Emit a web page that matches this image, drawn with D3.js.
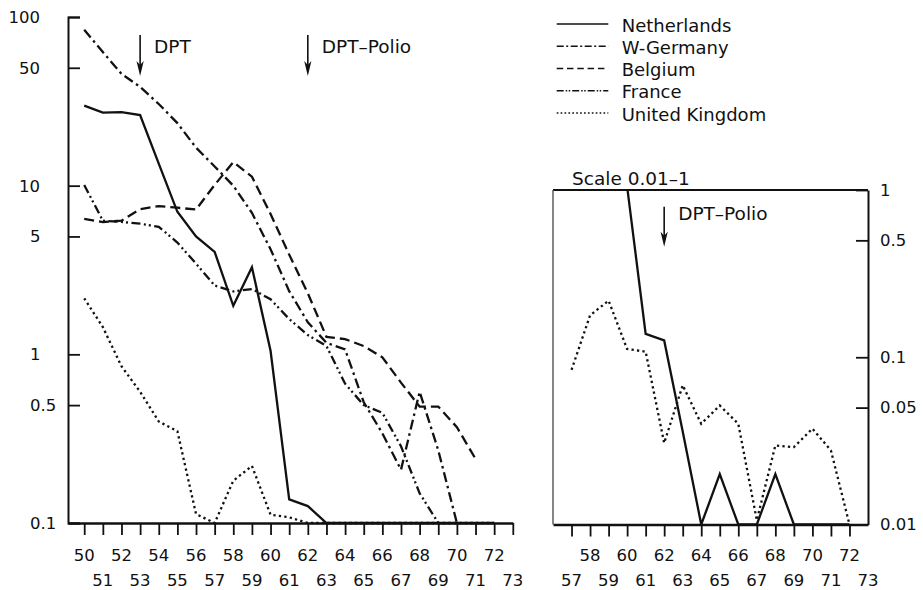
<!DOCTYPE html>
<html>
<head>
<meta charset="utf-8">
<script src="https://cdn.jsdelivr.net/npm/d3@7"></script>
<style>
  html, body { margin: 0; padding: 0; background: #fff; }
  svg { display: block; font-family: "DejaVu Sans", sans-serif; }
</style>
</head>
<body>
<svg id="chart" width="923" height="590"></svg>
<script>
// Diphtheria notifications per 100 000, 1950–1972
const years = d3.range(50, 73);               // 50 … 72
const netherlands = [29.8, 27.1, 27.3, 26.2, 13.5, 7.0, 5.0, 4.05, 1.94, 3.28, 1.05, 0.138, 0.126, 0.036, 0.01, 0.02, 0.01, 0.01, 0.02, 0.01, 0.01, 0.01, 0.01];
const wGermany    = [84, 62, 46, 38.5, 30.5, 23.5, 16.8, 13.0, 10.0, 6.9, 4.2, 2.37, 1.55, 1.17, 1.07, 0.52, 0.34, 0.207, 0.60, 0.27, 0.1, null, null];
const belgium     = [6.36, 6.08, 6.2, 7.25, 7.57, 7.4, 7.22, 10.1, 13.8, 11.3, 6.8, 3.9, 2.3, 1.27, 1.23, 1.12, 0.96, 0.68, 0.49, 0.49, 0.37, 0.24, null];
const france      = [10.1, 6.2, 6.1, 5.95, 5.7, 4.6, 3.45, 2.56, 2.36, 2.44, 2.12, 1.62, 1.3, 1.12, 0.67, 0.5, 0.45, 0.285, 0.15, 0.1, null, null, null];
const unitedKingdom = [2.15, 1.45, 0.85, 0.6, 0.4, 0.35, 0.113, 0.084, 0.178, 0.218, 0.112, 0.108, 0.0307, 0.068, 0.040, 0.0515, 0.040, 0.0106, 0.0297, 0.029, 0.0374, 0.0277, 0.01];

const mainYTicks  = [100, 50, 10, 5, 1, 0.5, 0.1];
const insetYTicks = [1, 0.5, 0.1, 0.05, 0.01];
const mainXTicks  = d3.range(50, 74);         // 50 … 73
const insetXTicks = d3.range(57, 73);         // 57 … 72
const insetXLabels = d3.range(57, 74);        // 57 … 73
const vaccinations = [{year: 53, label: "DPT"}, {year: 62, label: "DPT–Polio"}];
const insetVaccination = {year: 62, label: "DPT–Polio"};
const insetTitle = "Scale 0.01–1";

const ink = "#111";
const tickFont = 16.5;
const textFont = 18.5;
const svg = d3.select("#chart");

const series = [
  {name: "Netherlands",    values: netherlands,   dash: null,                 legendDash: null},
  {name: "W-Germany",      values: wGermany,      dash: "10,4,2.5,4",         legendDash: "7,2.5,2,2.5"},
  {name: "Belgium",        values: belgium,       dash: "10,5",               legendDash: "6.5,3.8"},
  {name: "France",         values: france,        dash: "9,3.5,2,3,2,3.5",    legendDash: "7,2,1.5,1.5,1.5,2"},
  {name: "United Kingdom", values: unitedKingdom, dash: "2.3,3.2",            legendDash: "1.7,2.2"}
];

// ---------- main panel ----------
const x = d3.scaleLinear().domain([49.13, 73]).range([68, 512.8]);
const y = d3.scaleLog().domain([0.1, 100]).range([523, 17]);

const gMain = svg.append("g");

// y axis: ticks point into the plot, labels drawn separately on the left
const yAxis = d3.axisLeft(y).tickValues(mainYTicks).tickSizeInner(-12).tickSizeOuter(-12).tickFormat("");
const gy = gMain.append("g").attr("transform", "translate(68,0)").call(yAxis);
gy.select(".domain").attr("stroke", ink).attr("stroke-width", 2);
gy.selectAll(".tick line").attr("stroke", ink).attr("stroke-width", 1.8);

gMain.append("g").selectAll("text").data(mainYTicks).join("text")
  .attr("x", d => d >= 10 ? 40 : 30)
  .attr("y", d => y(d) + 6)
  .attr("text-anchor", d => d >= 10 ? "end" : "start")
  .attr("font-size", tickFont)
  .attr("fill", ink)
  .text(d => d);

// x axis
const xAxis = d3.axisBottom(x).tickValues(mainXTicks).tickSizeInner(12).tickSizeOuter(0).tickFormat("");
const gx = gMain.append("g").attr("transform", "translate(0,523)").call(xAxis);
gx.select(".domain").attr("stroke", ink).attr("stroke-width", 2.5);
gx.selectAll(".tick line").attr("stroke", ink).attr("stroke-width", 1.8);

gMain.append("g").selectAll("text").data(mainXTicks).join("text")
  .attr("x", d => x(d))
  .attr("y", d => d % 2 === 0 ? 561 : 586)
  .attr("text-anchor", "middle")
  .attr("font-size", tickFont)
  .attr("fill", ink)
  .text(d => d);

// country lines (values below the axis floor sit on the 0.1 line)
const mainLine = d3.line()
  .defined(d => d.v != null)
  .x(d => x(d.year))
  .y(d => y(Math.max(d.v, 0.1)));

gMain.append("g").selectAll("path").data(series).join("path")
  .attr("d", s => mainLine(years.map((yr, i) => ({year: yr, v: s.values[i]}))))
  .attr("fill", "none")
  .attr("stroke", ink)
  .attr("stroke-width", 2.3)
  .attr("stroke-linejoin", "miter")
  .attr("stroke-dasharray", s => s.dash);

// vaccination arrows
function arrow(g, cx, top, bottom) {
  g.append("line").attr("x1", cx).attr("x2", cx).attr("y1", top).attr("y2", bottom - 6)
    .attr("stroke", ink).attr("stroke-width", 1.6);
  g.append("path")
    .attr("d", `M${cx - 3.6},${bottom - 15}L${cx},${bottom}L${cx + 3.6},${bottom - 15}L${cx},${bottom - 11}Z`)
    .attr("fill", ink);
}
vaccinations.forEach(vac => {
  const cx = x(vac.year);
  arrow(gMain, cx, 35, 76);
  gMain.append("text").attr("x", cx + 14).attr("y", 53.3)
    .attr("font-size", textFont).attr("fill", ink).text(vac.label);
});

// ---------- legend ----------
const gLegend = svg.append("g");
series.forEach((s, i) => {
  const base = 31.5 + i * 22.25;
  gLegend.append("line")
    .attr("x1", 556.7).attr("x2", 608.3)
    .attr("y1", base - 7.5).attr("y2", base - 7.5)
    .attr("stroke", ink).attr("stroke-width", 1.5)
    .attr("stroke-dasharray", s.legendDash);
  gLegend.append("text").attr("x", 621.7).attr("y", base)
    .attr("font-size", 18).attr("fill", ink).text(s.name);
});

// ---------- detail panel, scale 0.01–1 ----------
const xi = d3.scaleLinear().domain([56, 73]).range([553, 868]);
const yi = d3.scaleLog().domain([0.01, 1]).range([524.5, 190]);
const gInset = svg.append("g");

gInset.append("text").attr("x", 572).attr("y", 185)
  .attr("font-size", textFont).attr("fill", ink).text(insetTitle);

// frame: top and left edges
gInset.append("line").attr("x1", xi(56)).attr("x2", xi(73)).attr("y1", yi(1)).attr("y2", yi(1))
  .attr("stroke", ink).attr("stroke-width", 2);
gInset.append("line").attr("x1", xi(56)).attr("x2", xi(56)).attr("y1", yi(1)).attr("y2", yi(0.01))
  .attr("stroke", "#444").attr("stroke-width", 1.3);

// right-hand value axis
const yAxisI = d3.axisRight(yi).tickValues(insetYTicks).tickSizeInner(-12).tickSizeOuter(0).tickPadding(12).tickFormat(d => d);
const gyi = gInset.append("g").attr("transform", `translate(${xi(73)},0)`).call(yAxisI);
gyi.select(".domain").attr("stroke", ink).attr("stroke-width", 2);
gyi.selectAll(".tick line").attr("stroke", ink).attr("stroke-width", 1.8);
gyi.selectAll(".tick text").attr("font-size", tickFont).attr("font-family", "DejaVu Sans, sans-serif").attr("fill", ink);

// bottom year axis
const xAxisI = d3.axisBottom(xi).tickValues(insetXTicks).tickSizeInner(12).tickSizeOuter(0).tickFormat("");
const gxi = gInset.append("g").attr("transform", `translate(0,${yi(0.01)})`).call(xAxisI);
gxi.select(".domain").attr("stroke", ink).attr("stroke-width", 2.5);
gxi.selectAll(".tick line").attr("stroke", ink).attr("stroke-width", 1.8);

gInset.append("g").selectAll("text").data(insetXLabels).join("text")
  .attr("x", d => xi(d))
  .attr("y", d => d % 2 === 0 ? 561 : 586)
  .attr("text-anchor", "middle")
  .attr("font-size", tickFont)
  .attr("fill", ink)
  .text(d => d);

svg.append("defs").append("clipPath").attr("id", "insetClip")
  .append("rect").attr("x", xi(56)).attr("y", yi(1)).attr("width", xi(73) - xi(56)).attr("height", yi(0.01) - yi(1));

const insetLine = d3.line()
  .defined(d => d.v != null)
  .x(d => xi(d.year))
  .y(d => yi(Math.max(d.v, 0.01)));

const insetSeries = series.filter(s => s.name === "Netherlands" || s.name === "United Kingdom");
gInset.append("g").attr("clip-path", "url(#insetClip)")
  .selectAll("path").data(insetSeries).join("path")
  .attr("d", s => insetLine(years.map((yr, i) => ({year: yr, v: s.values[i]})).filter(d => d.year >= 57)))
  .attr("fill", "none")
  .attr("stroke", ink)
  .attr("stroke-width", 2.3)
  .attr("stroke-dasharray", s => s.dash);

arrow(gInset, xi(insetVaccination.year), 206.7, 246.7);
gInset.append("text").attr("x", xi(insetVaccination.year) + 14).attr("y", 220)
  .attr("font-size", textFont).attr("fill", ink).text(insetVaccination.label);
</script>
</body>
</html>
